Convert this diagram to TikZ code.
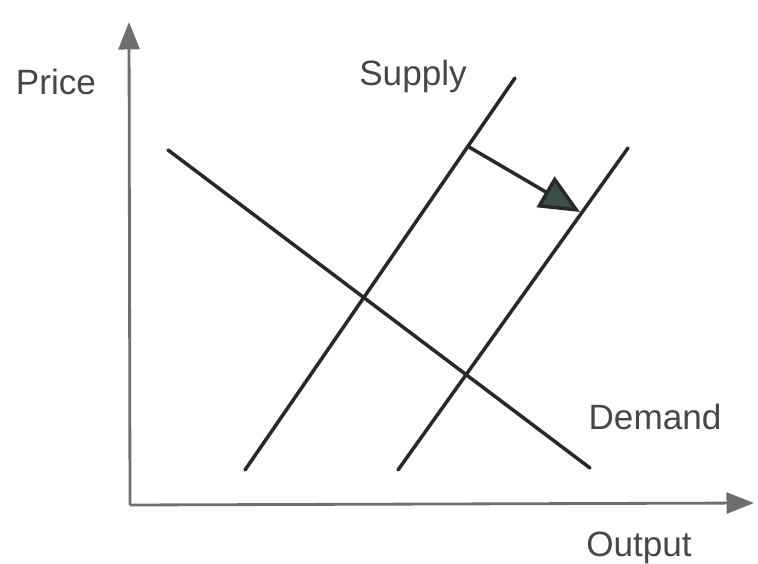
\documentclass[tikz,border=0pt]{standalone}
\usepackage{fontspec}
\setmainfont{Liberation Sans}
\usepackage{xcolor}
\definecolor{axisgray}{RGB}{110,110,110}
\definecolor{curvedark}{RGB}{40,40,40}
\definecolor{shiftgreen}{RGB}{60,78,72}
\usetikzlibrary{arrows.meta, positioning}

\begin{document}
\begin{tikzpicture}[x=0.02cm, y=-0.02cm,
    lbl/.style={font=\fontsize{20}{24}\selectfont, text=black!72, inner sep=0pt},
    axisline/.style={axisgray, line width=1.6pt, -{Triangle[length=0.55cm, width=0.42cm]}},
    curve/.style={curvedark, line width=2pt, line cap=round},
    shiftarrow/.style={curvedark, line width=2pt, -{Triangle[length=0.8cm, width=0.7cm, fill=shiftgreen]}}]
  \useasboundingbox (0,0) rectangle (758,564);
  % Axes
  \coordinate (o) at (130,505);
  \coordinate (ytop) at (129,22);
  \coordinate (xend) at (754,503);
  \draw[axisline] (o) -- (ytop);
  \draw[axisline] (o) -- (xend);
  % Demand
  \coordinate (d1) at (168,150);
  \coordinate (d2) at (590,468);
  \draw[curve] (d1) -- (d2);
  % Supply, before and after the shift
  \coordinate (s1a) at (245,470);
  \coordinate (s1b) at (515,78);
  \coordinate (s2a) at (398,470);
  \coordinate (s2b) at (628,148);
  \draw[curve] (s1a) -- (s1b);
  \draw[curve] (s2a) -- (s2b);
  % Shift arrow
  \coordinate (sh1) at (469,147);
  \coordinate (sh2) at (580,212);
  \draw[shiftarrow] (sh1) -- (sh2);
  % Labels
  \node[lbl] (price) at (56,82) {Price};
  \node[lbl] (supply) at (413,76) {Supply};
  \node[lbl] (demand) at (655,417) {Demand};
  \node[lbl] (output) at (639,548) {Output};
\end{tikzpicture}
\end{document}
